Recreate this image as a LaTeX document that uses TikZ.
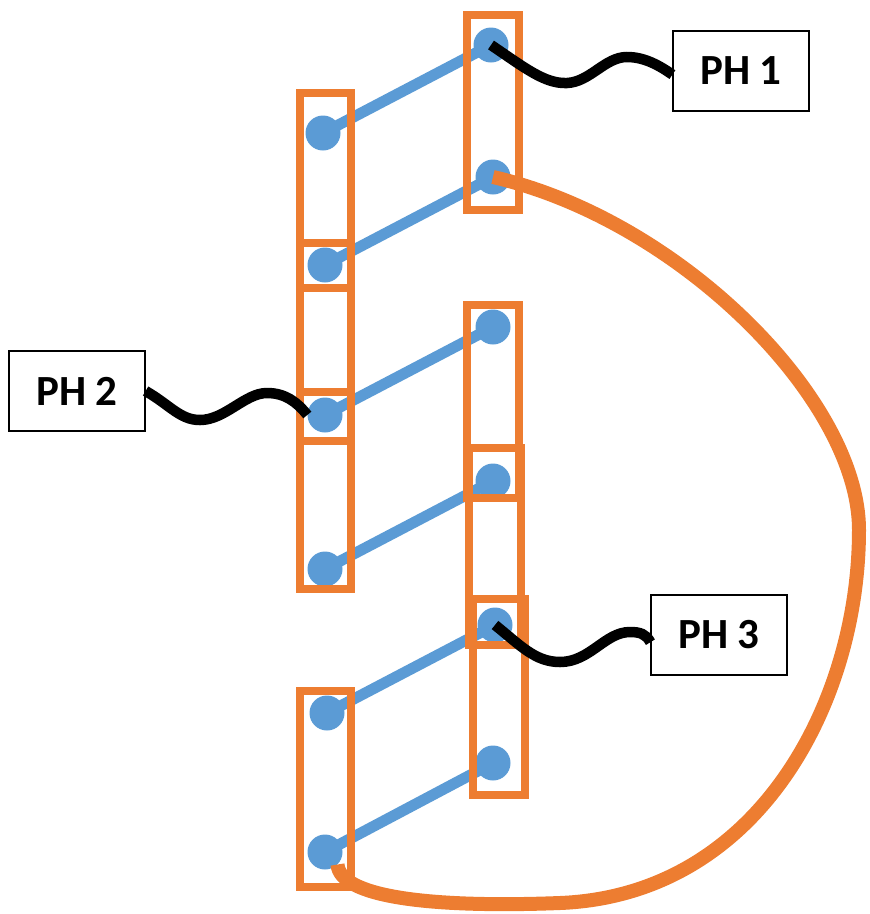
\documentclass[tikz,border=0pt]{standalone}
\usepackage{fontspec}
\setmainfont{Carlito}
\usepackage{tikz}
\usetikzlibrary{positioning,backgrounds}
\definecolor{pinorange}{HTML}{ED7D31}
\definecolor{pinblue}{HTML}{5B9BD5}

\begin{document}
\begin{tikzpicture}[x=1pt, y=-1pt,
    pin/.style={circle, fill=pinblue, minimum size=35pt, inner sep=0pt},
    link/.style={pinblue, line width=11pt},
    frame/.style={pinorange, line width=7.5pt},
    loopwire/.style={pinorange, line width=14pt},
    lead/.style={black, line width=10.5pt},
    tag/.style={draw, fill=white, line width=1.2pt, minimum width=136pt, minimum height=80pt, font=\fontsize{43}{50}\selectfont\bfseries}]
    \useasboundingbox (0,0) rectangle (870,914);

    % pins, left and right column
    \node[pin] (l1) at (323,133) {};
    \node[pin] (l2) at (325,265) {};
    \node[pin] (l3) at (325,415) {};
    \node[pin] (l4) at (325,569) {};
    \node[pin] (l5) at (327,713) {};
    \node[pin] (l6) at (325,852) {};
    \node[pin] (r1) at (491,45) {};
    \node[pin] (r2) at (493,177) {};
    \node[pin] (r3) at (493,327) {};
    \node[pin] (r4) at (493,481) {};
    \node[pin] (r5) at (495,625) {};
    \node[pin] (r6) at (493,763) {};

    \begin{scope}[on background layer]
    \draw[link] (l1.center) -- (r1.center);
    \draw[link] (l2.center) -- (r2.center);
    \draw[link] (l3.center) -- (r3.center);
    \draw[link] (l4.center) -- (r4.center);
    \draw[link] (l5.center) -- (r5.center);
    \draw[link] (l6.center) -- (r6.center);
    \end{scope}

    % frames
    \draw[frame] (300,93) rectangle (351,288);
    \draw[frame] (300,243) rectangle (351,441);
    \draw[frame] (300,392) rectangle (351,589);
    \draw[frame] (300,691) rectangle (351,887);
    \draw[frame] (467,15) rectangle (519,210);
    \draw[frame] (467,305) rectangle (519,498);
    \draw[frame] (469,448) rectangle (521,645);
    \draw[frame] (473,599) rectangle (525,795);

    \draw[loopwire] (r2.center) .. controls (680,220) and (859,400) .. (859,530)
        .. controls (859,700) and (760,895) .. (560,903)
        .. controls (430,908) and (340,897) .. (l6.-45);

    \node[tag] (ph1) at (741,71) {PH 1\hspace{16pt}};
    \node[tag] (ph2) at (77,391) {PH 2\hspace{16pt}};
    \node[tag] (ph3) at (719,635) {PH 3\hspace{16pt}};

    \draw[lead] (r1.center) .. controls (525,68) and (545,84) .. (567,83)
        .. controls (590,82) and (605,57) .. (627,57)
        .. controls (645,57) and (660,66) .. (ph1.183);
    \draw[lead] (ph2.east) .. controls (170,405) and (180,420) .. (200,420)
        .. controls (225,420) and (245,393) .. (267,393)
        .. controls (285,393) and (297,402) .. (l3.west);
    \draw[lead] (r5.center) .. controls (520,645) and (535,662) .. (560,662)
        .. controls (590,662) and (605,632) .. (630,632)
        .. controls (640,632) and (646,634) .. (ph3.186);
\end{tikzpicture}
\end{document}
